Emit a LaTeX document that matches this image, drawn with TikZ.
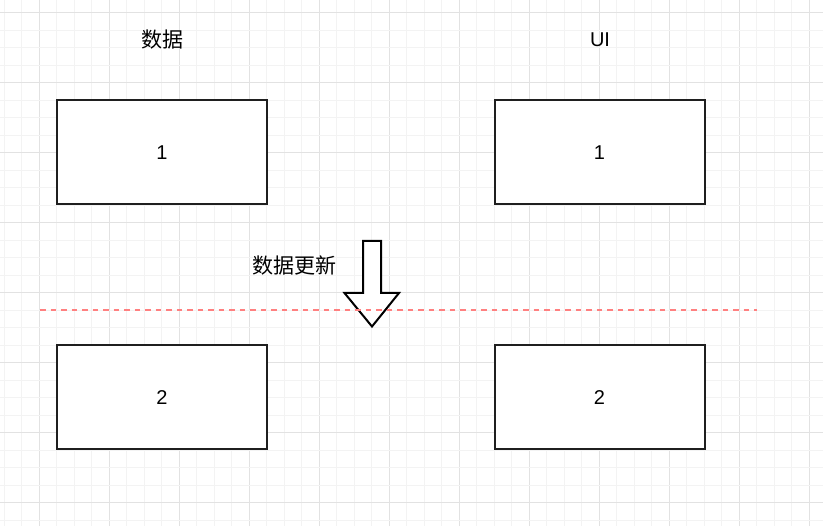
\documentclass[tikz,border=0pt]{standalone}
\usepackage{fontspec}
\setmainfont{Liberation Sans}
\newfontfamily\cjk{Noto Sans CJK SC}
\definecolor{minorgrid}{HTML}{F3F3F3}
\definecolor{majorgrid}{HTML}{E2E2E2}
\definecolor{dashred}{HTML}{FF8080}
\tikzset{
  boxnode/.style={draw=black!88, line width=2pt, fill=white, minimum width=210pt, minimum height=104pt, inner sep=0pt, font=\fontsize{20}{24}\selectfont},
  labelnode/.style={inner sep=0pt, font=\fontsize{20}{24}\selectfont},
  cjklabel/.style={inner sep=0pt, font=\cjk\fontsize{21}{25}\selectfont},
  minorline/.style={draw=minorgrid, line width=1pt},
  majorline/.style={draw=majorgrid, line width=1pt},
  bigarrow/.style={draw=black, line width=2pt, fill=white, line join=miter},
  sepline/.style={draw=dashred, line width=1.5pt, dash pattern=on 5.5pt off 5pt}
}
\begin{document}
\begin{tikzpicture}[x=1pt,y=-1pt]
\useasboundingbox (0,0) rectangle (823,526);
\fill[white] (0,0) rectangle (823,526);
% grid
\foreach \i in {0,...,47} {
  \pgfmathsetmacro{\xx}{4.3+17.5*\i}
  \pgfmathtruncatemacro{\m}{mod(\i,4)}
  \ifnum\m=2
    \draw[majorline] (\xx,0) -- (\xx,526);
  \else
    \draw[minorline] (\xx,0) -- (\xx,526);
  \fi
}
\foreach \j in {0,...,29} {
  \pgfmathsetmacro{\yy}{12.7+17.5*\j}
  \pgfmathtruncatemacro{\m}{mod(\j,4)}
  \ifnum\m=0
    \draw[majorline] (0,\yy) -- (823,\yy);
  \else
    \draw[minorline] (0,\yy) -- (823,\yy);
  \fi
}
% labels
\node[cjklabel] (data) at (162,40) {数据};
\node[labelnode] (ui) at (600,40) {UI};
\node[cjklabel] (upd) at (294.5,266) {数据更新};
% boxes
\node[boxnode] (d1) at (162,152.5) {1};
\node[boxnode] (u1) at (599.5,152.5) {1};
\node[boxnode] (d2) at (162,397.5) {2};
\node[boxnode] (u2) at (599.5,397.5) {2};
% block arrow
\draw[bigarrow] (363,241) -- (381,241) -- (381,293) -- (399,293) -- (372,326.5) -- (344.5,293) -- (363,293) -- cycle;
% separator
\coordinate (sepL) at (40,310);
\coordinate (sepR) at (757,310);
\draw[sepline] (sepL) -- (sepR);
\end{tikzpicture}
\end{document}
